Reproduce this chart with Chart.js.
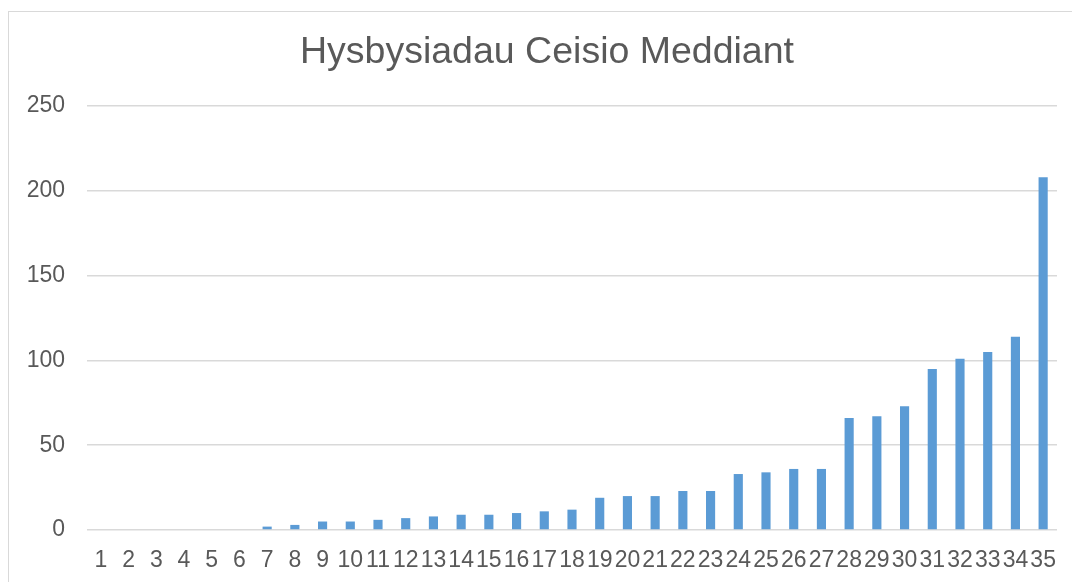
<!DOCTYPE html>
<html>
<head>
<meta charset="utf-8">
<script src="https://cdn.jsdelivr.net/npm/chart.js@4"></script>
<style>
  html, body { margin: 0; padding: 0; background: #fff; overflow: hidden; }
  #frame { position: absolute; left: 8px; top: 11px; width: 1100px; height: 620px; border: 1px solid #d9d9d9; box-sizing: border-box; }
  #wrap { position: absolute; left: 0; top: 0; width: 1072px; height: 582px; }
</style>
</head>
<body>
<div id="frame"></div>
<div id="wrap"><canvas id="chart"></canvas></div>
<script>
  const categories = ["1","2","3","4","5","6","7","8","9","10","11","12","13","14","15","16","17","18","19","20","21","22","23","24","25","26","27","28","29","30","31","32","33","34","35"];
  const values = [0, 0, 0, 0, 0, 0, 2, 3, 5, 5, 6, 7, 8, 9, 9, 10, 11, 12, 19, 20, 20, 23, 23, 33, 34, 36, 36, 66, 67, 73, 95, 101, 105, 114, 208];
  const yTicks = [0, 50, 100, 150, 200, 250];

  const textColor = "#595959";
  const gridColor = "#d9d9d9";
  const font = "'Liberation Sans', Arial, sans-serif";

  // title is centred over the framed box, not the canvas, so nudge its span
  const titleSpan = {
    id: "titleSpan",
    afterLayout(chart) {
      chart.titleBlock.left = 37;
      chart.titleBlock.right = chart.chartArea.right;
    },
  };

  new Chart(document.getElementById("chart"), {
    type: "bar",
    data: {
      labels: categories,
      datasets: [{ data: values, backgroundColor: "#5b9bd5", barPercentage: 0.33, categoryPercentage: 1 }],
    },
    plugins: [titleSpan],
    options: {
      responsive: true,
      maintainAspectRatio: false,
      animation: false,
      layout: { padding: { left: 0, right: 15, top: 0, bottom: 0 } },
      plugins: {
        legend: { display: false },
        tooltip: { enabled: false },
        title: {
          display: true,
          text: "Hysbysiadau Ceisio Meddiant",
          color: textColor,
          font: { family: font, size: 37.5, weight: "normal" },
          padding: { top: 30, bottom: 31 },
        },
      },
      scales: {
        x: {
          grid: { display: false },
          border: { display: false },
          ticks: { color: textColor, font: { family: font, size: 23 }, autoSkip: false, maxRotation: 0, minRotation: 0, padding: 9 },
          afterFit: (s) => { s.height = 52; },
        },
        y: {
          min: 0,
          max: 250,
          afterBuildTicks: (s) => { s.ticks = yTicks.map((v) => ({ value: v })); },
          grid: { color: gridColor, lineWidth: 1.5, drawTicks: false },
          border: { display: false },
          ticks: { color: textColor, font: { family: font, size: 23 }, padding: 22 },
          afterFit: (s) => { s.width = 87; },
        },
      },
    },
  });
</script>
</body>
</html>
